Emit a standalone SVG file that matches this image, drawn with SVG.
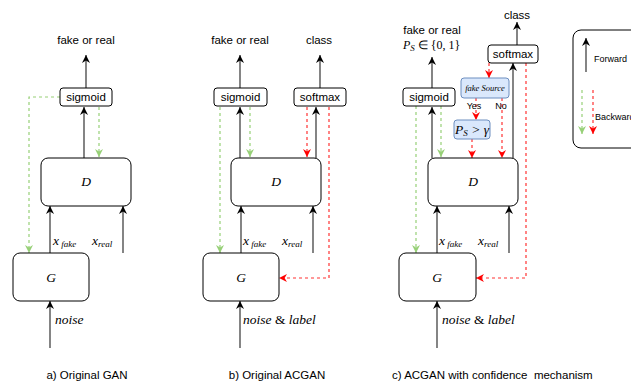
<svg xmlns="http://www.w3.org/2000/svg" width="631" height="382" viewBox="0 0 631 382">
  <defs>
    <marker id="arrow-black" viewBox="0 0 10 10" refX="10" refY="5" markerWidth="8" markerHeight="8" markerUnits="userSpaceOnUse" orient="auto">
      <path d="M0,0 L10,5 L0,10 L3,5 z" fill="#000"/>
    </marker>
    <marker id="arrow-green" viewBox="0 0 10 10" refX="10" refY="5" markerWidth="8" markerHeight="8" markerUnits="userSpaceOnUse" orient="auto">
      <path d="M0,0 L10,5 L0,10 L3,5 z" fill="#97D077"/>
    </marker>
    <marker id="arrow-red" viewBox="0 0 10 10" refX="10" refY="5" markerWidth="8" markerHeight="8" markerUnits="userSpaceOnUse" orient="auto">
      <path d="M0,0 L10,5 L0,10 L3,5 z" fill="#FF0000"/>
    </marker>
  </defs>
  <style>
    .box { fill: #fff; stroke: #000; stroke-width: 1; }
    .qbox { fill: #dae8fc; stroke: #6c8ebf; stroke-width: 1; }
    .fwd { fill: none; stroke: #333; stroke-width: 1.2; marker-end: url(#arrow-black); }
    .bg { fill: none; stroke: #97D077; stroke-width: 1.2; stroke-dasharray: 3 3; marker-end: url(#arrow-green); }
    .br { fill: none; stroke: #FF3333; stroke-width: 1.2; stroke-dasharray: 3 3; marker-end: url(#arrow-red); }
    .sans { font-family: "Liberation Sans", Arial, sans-serif; font-size: 11.5px; fill: #000; }
    .small { font-family: "Liberation Sans", Arial, sans-serif; font-size: 9px; fill: #000; }
    .math { font-family: "Liberation Serif", "Times New Roman", serif; font-style: italic; font-size: 13.5px; fill: #000; }
    .mathsm { font-family: "Liberation Serif", "Times New Roman", serif; font-style: italic; font-size: 12px; fill: #000; }
    .tiny { font-family: "Liberation Serif", "Times New Roman", serif; font-style: italic; font-size: 8.5px; fill: #000; }
    .up { font-style: normal; }
    .sub { font-size: 9px; }
  </style>

  <!-- connectors -->
  <g id="connectors">
    <!-- a) GAN -->
    <path class="fwd" d="M86,88 V55"/>
    <path class="fwd" d="M84,158 V107"/>
    <path class="bg" d="M60,97 H29 V253"/>
    <path class="bg" d="M99,107 V157"/>
    <path class="fwd" d="M50,253 V206"/>
    <path class="fwd" d="M123,253 V206"/>
    <path class="fwd" d="M50,348 V301"/>

    <!-- b) ACGAN -->
    <path class="fwd" d="M240,88 V55"/>
    <path class="fwd" d="M320,88 V55"/>
    <path class="fwd" d="M240,158 V107"/>
    <path class="fwd" d="M316,158 V107"/>
    <path class="bg" d="M220,107 V253"/>
    <path class="bg" d="M250,107 V157"/>
    <path class="br" d="M307,107 V157"/>
    <path class="br" d="M329,107 V278 H279"/>
    <path class="fwd" d="M241,253 V206"/>
    <path class="fwd" d="M313,253 V206"/>
    <path class="fwd" d="M240,348 V301"/>

    <!-- c) ACGAN with confidence -->
    <path class="fwd" d="M432,88 V57"/>
    <path class="fwd" d="M517,45 V22"/>
    <path class="fwd" d="M432,158 V107"/>
    <path class="fwd" d="M513,158 V63"/>
    <path class="bg" d="M416,106 V253"/>
    <path class="bg" d="M441,106 V157"/>
    <path class="br" d="M489,63 V78"/>
    <path class="br" d="M476,98 V120"/>
    <path class="br" d="M472,139 V158"/>
    <path class="br" d="M502,98 V158"/>
    <path class="br" d="M526,63 V278 H476"/>
    <path class="fwd" d="M437,253 V206"/>
    <path class="fwd" d="M509,253 V206"/>
    <path class="fwd" d="M437,348 V301"/>
  </g>

  <!-- a) Original GAN -->
  <g id="a-output"><text class="sans" x="86" y="44" text-anchor="middle">fake or real</text></g>
  <g id="a-sigmoid">
    <rect class="box" x="60" y="88" width="52" height="18" rx="3"/>
    <text class="sans" x="86" y="101" text-anchor="middle">sigmoid</text>
  </g>
  <g id="a-D">
    <rect class="box" x="41" y="158" width="90" height="48" rx="7"/>
    <text class="math" x="86" y="186" text-anchor="middle">D</text>
  </g>
  <g id="a-G">
    <rect class="box" x="13" y="253" width="76" height="48" rx="7"/>
    <text class="math" x="51" y="282" text-anchor="middle">G</text>
  </g>
  <g id="a-labels">
    <text class="math" x="53" y="245">x<tspan class="sub" dy="2"> fake</tspan></text>
    <text class="math" x="92" y="245">x<tspan class="sub" dy="2">real</tspan></text>
    <text class="math" x="55" y="324">noise</text>
    <text class="sans" x="87" y="379" text-anchor="middle">a) Original GAN</text>
  </g>

  <!-- b) Original ACGAN -->
  <g id="b-outputs">
    <text class="sans" x="240" y="44" text-anchor="middle">fake or real</text>
    <text class="sans" x="319" y="44" text-anchor="middle">class</text>
  </g>
  <g id="b-sigmoid">
    <rect class="box" x="214" y="88" width="53" height="18" rx="3"/>
    <text class="sans" x="240.5" y="101" text-anchor="middle">sigmoid</text>
  </g>
  <g id="b-softmax">
    <rect class="box" x="294" y="88" width="52" height="18" rx="3"/>
    <text class="sans" x="320" y="101" text-anchor="middle">softmax</text>
  </g>
  <g id="b-D">
    <rect class="box" x="231" y="158" width="90" height="48" rx="7"/>
    <text class="math" x="276" y="186" text-anchor="middle">D</text>
  </g>
  <g id="b-G">
    <rect class="box" x="203" y="253" width="76" height="48" rx="7"/>
    <text class="math" x="241" y="282" text-anchor="middle">G</text>
  </g>
  <g id="b-labels">
    <text class="math" x="243" y="245">x<tspan class="sub" dy="2"> fake</tspan></text>
    <text class="math" x="282" y="245">x<tspan class="sub" dy="2">real</tspan></text>
    <text class="math" x="243" y="324">noise <tspan class="up">&amp;</tspan> label</text>
    <text class="sans" x="277" y="379" text-anchor="middle">b) Original ACGAN</text>
  </g>

  <!-- c) ACGAN with confidence mechanism -->
  <g id="c-outputs">
    <text class="sans" x="432" y="34" text-anchor="middle">fake or real</text>
    <text class="mathsm" x="403" y="49">P<tspan class="sub" dy="2">S</tspan><tspan class="up" dy="-2"> ∈ {0, 1}</tspan></text>
    <text class="sans" x="517" y="19" text-anchor="middle">class</text>
  </g>
  <g id="c-sigmoid">
    <rect class="box" x="403" y="88" width="52" height="18" rx="3"/>
    <text class="sans" x="429" y="101" text-anchor="middle">sigmoid</text>
  </g>
  <g id="c-softmax">
    <rect class="box" x="488" y="45" width="50" height="18" rx="3"/>
    <text class="sans" x="513" y="58" text-anchor="middle">softmax</text>
  </g>
  <g id="c-fake-source">
    <rect class="qbox" x="461" y="78" width="48" height="20" rx="3"/>
    <text class="tiny" x="485" y="91" text-anchor="middle">fake Source</text>
  </g>
  <g id="c-threshold">
    <rect class="qbox" x="454" y="120" width="36" height="19" rx="3"/>
    <text class="math" x="472" y="134" text-anchor="middle">P<tspan class="sub" dy="2">S</tspan><tspan dy="-2"> &gt; γ</tspan></text>
  </g>
  <g id="c-D">
    <rect class="box" x="428" y="158" width="90" height="48" rx="7"/>
    <text class="math" x="473" y="186" text-anchor="middle">D</text>
  </g>
  <g id="c-G">
    <rect class="box" x="399" y="253" width="77" height="48" rx="7"/>
    <text class="math" x="437" y="282" text-anchor="middle">G</text>
  </g>
  <g id="c-labels">
    <text class="small" x="474" y="109" text-anchor="middle">Yes</text>
    <text class="small" x="501" y="109" text-anchor="middle">No</text>
    <text class="math" x="439" y="245">x<tspan class="sub" dy="2"> fake</tspan></text>
    <text class="math" x="478" y="245">x<tspan class="sub" dy="2">real</tspan></text>
    <text class="math" x="442" y="324">noise <tspan class="up">&amp;</tspan> label</text>
    <text class="sans" x="392" y="379" xml:space="preserve">c) ACGAN with confidence  mechanism</text>
  </g>

  <!-- legend -->
  <g id="legend">
    <rect class="box" x="573" y="30" width="80" height="118" rx="8"/>
    <path class="fwd" d="M586,72 V38"/>
    <text class="small" x="594" y="62">Forward</text>
    <path class="bg" d="M582,90 V134"/>
    <path class="br" d="M593,90 V134"/>
    <text class="small" x="595" y="120">Backward</text>
  </g>
</svg>
